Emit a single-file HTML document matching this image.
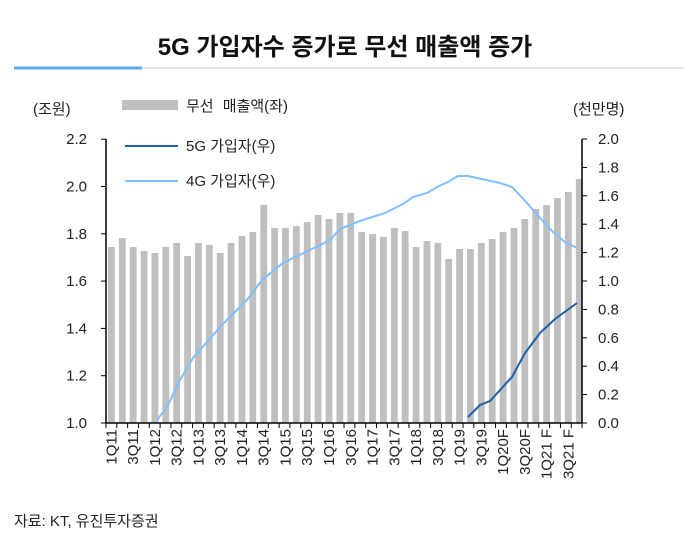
<!DOCTYPE html>
<html><head><meta charset="utf-8"><style>
body{margin:0;background:#fff;}
svg{display:block;font-family:"Liberation Sans","Noto Sans CJK KR",sans-serif;}
</style></head><body>
<svg width="697" height="538" viewBox="0 0 697 538" xmlns="http://www.w3.org/2000/svg">
<text x="345" y="55" text-anchor="middle" font-size="24" font-weight="bold" fill="#111">5G 가입자수 증가로 무선 매출액 증가</text>
<line x1="142" y1="68" x2="684" y2="68" stroke="#ccc" stroke-width="1"/>
<line x1="14" y1="68" x2="142" y2="68" stroke="#5aa9f0" stroke-width="3"/>
<g font-size="15" fill="#222">
<text x="33" y="114">(조원)</text>
<text x="573" y="114">(천만명)</text>
</g>
<rect x="122" y="100" width="56" height="10" fill="#bfbfbf"/>
<text x="186" y="111" font-size="15" fill="#222" word-spacing="5">무선 매출액(좌)</text>
<line x1="125" y1="146" x2="178" y2="146" stroke="#1f5fa8" stroke-width="2"/>
<text x="186" y="151" font-size="15" fill="#222">5G 가입자(우)</text>
<line x1="125" y1="181" x2="178" y2="181" stroke="#7fbfff" stroke-width="2"/>
<text x="186" y="186" font-size="15" fill="#222">4G 가입자(우)</text>
<g id="bars" fill="#bfbfbf"></g>
<line x1="106" y1="139" x2="106" y2="423" stroke="#000" stroke-width="1.5"/>
<line x1="582" y1="139" x2="582" y2="423" stroke="#000" stroke-width="1.5"/>
<line x1="106" y1="423" x2="582" y2="423" stroke="#000" stroke-width="1.5"/>
<g id="ticks" stroke="#000" stroke-width="1"></g>
<g id="lab" font-size="15" fill="#222"></g>
<polyline fill="none" stroke="#7fbfff" stroke-width="2" points="157,420 167,407 180,380 193,358 207,342 220,327 232,315 247,300 262,280 283,263 310,250 330,240 340,229 360,221 385,213 403,204 413,197 427,193 437,187 448,182 458,176 468,176 500,183 512,187 527,203 540,218 553,232 565,242 577,248"/>
<polyline fill="none" stroke="#1f5fa8" stroke-width="2" points="468,417 480,405 490,401 512,377 525,353 540,333 555,319 577,303"/>
<text x="14" y="526" font-size="15" fill="#222">자료: KT, 유진투자증권</text>
</svg>
<script>
const ns="http://www.w3.org/2000/svg";
const tops=[247,238,247,251,253,247,243,256,243,245,253,243,236,232,205,228,228,226,222,215,219,213,213,232,234,237,228,231,247,241,243,259,249,249,243,239,232,228,219,209,205,198,192,179];
const b=document.getElementById('bars'),t=document.getElementById('ticks'),l=document.getElementById('lab');
function el(p,n,a,tx){const e=document.createElementNS(ns,n);for(const k in a)e.setAttribute(k,a[k]);if(tx)e.textContent=tx;p.appendChild(e);}
const names=["1Q11","3Q11","1Q12","3Q12","1Q13","3Q13","1Q14","3Q14","1Q15","3Q15","1Q16","3Q16","1Q17","3Q17","1Q18","3Q18","1Q19","3Q19","1Q20F","3Q20F","1Q21 F","3Q21 F"];
tops.forEach((y,i)=>{const x=108+i*10.88;el(b,'rect',{x:x,y:y,width:6.8,height:423-y});
el(t,'line',{x1:106+i*10.82,y1:423,x2:106+i*10.82,y2:428});
if(i%2==0){const cx=x+3.4+5;el(l,'text',{x:0,y:0,'text-anchor':'end',transform:`translate(${cx},429) rotate(-90)`},names[i/2]);}});
el(t,'line',{x1:582,y1:423,x2:582,y2:428});
for(let k=0;k<7;k++){const y=423-k*47.3;el(t,'line',{x1:101,y1:y,x2:106,y2:y});el(l,'text',{x:87,y:y+5,'text-anchor':'end'},(1+k*0.2).toFixed(1));}
for(let k=0;k<11;k++){const y=423-k*28.4;el(t,'line',{x1:582,y1:y,x2:587,y2:y});el(l,'text',{x:598,y:y+5},(k*0.2).toFixed(1));}
</script>
</body></html>
